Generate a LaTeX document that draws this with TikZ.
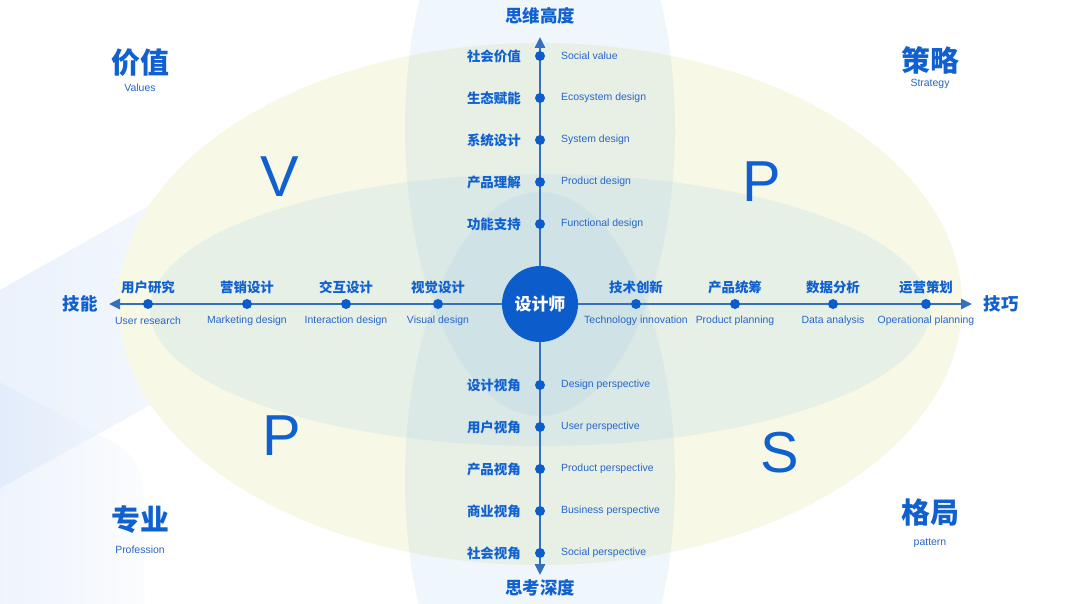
\documentclass[tikz,border=0pt]{standalone}
\usepackage{fontspec}
\setmainfont{Noto Sans CJK SC}
\newfontfamily\cjk{Noto Sans CJK SC}
\newfontfamily\enf{Liberation Sans}
\usetikzlibrary{arrows.meta}
\definecolor{mainblue}{HTML}{1060CF}
\definecolor{enblue}{HTML}{2865CA}
\definecolor{dotblue}{HTML}{0D5CCB}
\definecolor{axisblue}{HTML}{3470BC}
\definecolor{yellowfill}{HTML}{F7F9E6}
\definecolor{innerblue}{HTML}{A0C8E8}
\definecolor{vblue}{HTML}{96C3EB}
\definecolor{decoblue}{HTML}{C4D9F7}
\tikzset{
  cnlab/.style={font=\cjk\bfseries\fontsize{13.5}{15}\selectfont, text=mainblue, inner sep=0pt},
  enlab/.style={font=\enf\fontsize{10.5}{12}\selectfont, text=enblue, inner sep=0pt},
  axislab/.style={font=\cjk\bfseries\fontsize{17.5}{19}\selectfont, text=mainblue, inner sep=0pt},
  cornertitle/.style={font=\cjk\bfseries\fontsize{29}{31}\selectfont, text=mainblue, inner sep=0pt},
  cornersub/.style={font=\enf\fontsize{10.5}{12}\selectfont, text=enblue, inner sep=0pt},
  bigletter/.style={font=\enf\fontsize{58}{60}\selectfont, text=mainblue, inner sep=0pt, anchor=base},
  dotnode/.style={circle, fill=dotblue, minimum size=10bp, inner sep=0pt},
  axisline/.style={draw=axisblue, line width=2.6bp, -{Triangle[length=11bp,width=10bp]}},
  deco/.style={left color=decoblue, right color=decoblue!15, fill opacity=0.4, rounded corners=30bp},
}
\begin{document}
\begin{tikzpicture}[x=1bp,y=-1bp]
\useasboundingbox (0,0) rectangle (1080,604);
\fill[white] (0,0) rectangle (1080,604);
% background decorations
\shade[deco] (-80,335) -- (330,104) -- (330,305) -- (-80,533) -- cycle;
\shade[deco] (-80,340) -- (143,458) -- (146,720) -- (-80,720) -- cycle;
% ellipses
\fill[yellowfill] (540,304) ellipse [x radius=422, y radius=261];
\fill[innerblue, fill opacity=0.18] (540,310) ellipse [x radius=390, y radius=136];
\fill[vblue, fill opacity=0.15] (540,129) ellipse [x radius=135, y radius=287];
\fill[vblue, fill opacity=0.15] (540,479) ellipse [x radius=135, y radius=287];
% center
\node[circle, fill=dotblue, minimum size=76bp, inner sep=0pt,
      font=\cjk\bfseries\fontsize{17}{19}\selectfont, text=white] (c) at (540,304) {设计师};
\coordinate (up) at (540,37);
\coordinate (down) at (540,575);
\coordinate (lft) at (109,304);
\coordinate (rgt) at (972,304);
\draw[axisline] (c) -- (up);
\draw[axisline] (c) -- (down);
\draw[axisline] (c) -- (lft);
\draw[axisline] (c) -- (rgt);
% axis labels
\node[axislab] (ttop) at (540,16) {思维高度};
\node[axislab] (tbot) at (540,588) {思考深度};
\node[axislab] (tl) at (80,304) {技能};
\node[axislab] (tr) at (1001,304) {技巧};
% vertical items
\foreach \i/\yy/\cn/\ee in {1/56/社会价值/Social value, 2/98/生态赋能/Ecosystem design, 3/140/系统设计/System design, 4/182/产品理解/Product design, 5/224/功能支持/Functional design, 6/385/设计视角/Design perspective, 7/427/用户视角/User perspective, 8/469/产品视角/Product perspective, 9/511/商业视角/Business perspective, 10/553/社会视角/Social perspective}{
  \node[dotnode] (v\i) at (540,\yy) {};
  \node[cnlab, anchor=east] (vc\i) at (521,\yy) {\cn};
  \node[enlab, anchor=west] (ve\i) at (561,\yy) {\ee};
}
% horizontal items
\foreach \i/\xx/\cn/\ee in {1/148/用户研究/User research, 2/247/营销设计/Marketing design, 3/346/交互设计/Interaction design, 4/438/视觉设计/Visual design, 5/636/技术创新/Technology innovation, 6/735/产品统筹/Product planning, 7/833/数据分析/Data analysis, 8/926/运营策划/Operational planning}{
  \node[dotnode] (h\i) at (\xx,304) {};
  \node[cnlab] (hc\i) at (\xx,287) {\cn};
  \node[enlab] (he\i) at (\xx,321) {\ee};
}
% corner titles
\node[cornertitle] (k1) at (140,63) {价值};
\node[cornersub] (k1e) at (140,88) {Values};
\node[cornertitle] (k2) at (930,60) {策略};
\node[cornersub] (k2e) at (930,84) {Strategy};
\node[cornertitle] (k3) at (140,520) {专业};
\node[cornersub] (k3e) at (140,550) {Profession};
\node[cornertitle] (k4) at (930,513) {格局};
\node[cornersub] (k4e) at (930,543) {pattern};
% big letters
\node[bigletter] (lv) at (280,197) {V};
\node[bigletter] (lp1) at (762,202) {P};
\node[bigletter] (lp2) at (282,455) {P};
\node[bigletter] (ls) at (780,472) {S};
\end{tikzpicture}
\end{document}
